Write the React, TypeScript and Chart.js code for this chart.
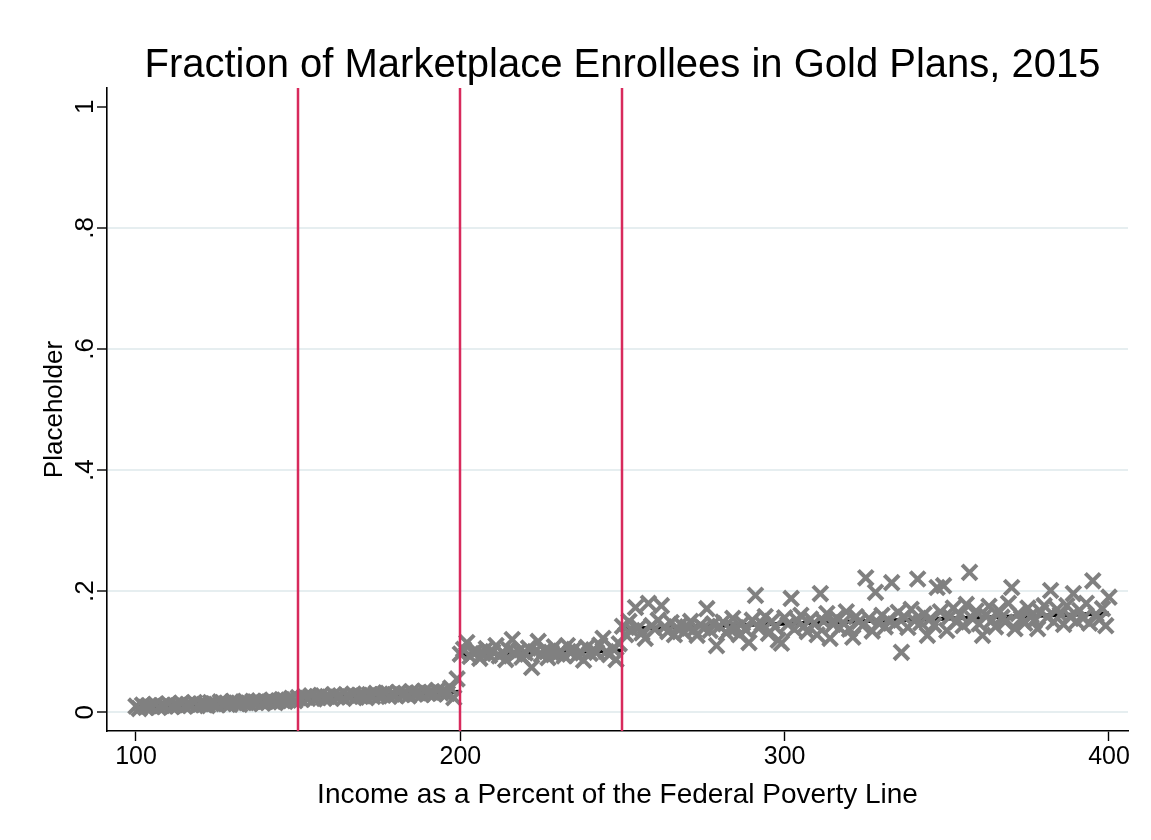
import React, { useEffect, useRef } from "react";
import { Chart, registerables } from "chart.js";

Chart.register(...registerables);

const TITLE = "Fraction of Marketplace Enrollees in Gold Plans, 2015";
const X_TITLE = "Income as a Percent of the Federal Poverty Line";
const Y_TITLE = "Placeholder";

const xTicks = [100, 200, 300, 400];
const yTicks = [0, 0.2, 0.4, 0.6, 0.8, 1];
const yTickLabels = ["0", ".2", ".4", ".6", ".8", "1"];

// Subsidy cutoffs (% of FPL)
const cutoffs = [150, 200, 250];

// First income value of each bracket
const segStarts = [100, 150, 200, 250];

// Share of enrollees in gold plans, one value per percent of FPL
const share100to149 = [
  0.010, 0.006, 0.012, 0.008, 0.011, 0.009, 0.013, 0.008, 0.011, 0.010,
  0.014, 0.009, 0.012, 0.011, 0.015, 0.010, 0.013, 0.012, 0.016, 0.011,
  0.014, 0.013, 0.011, 0.016, 0.014, 0.012, 0.017, 0.014, 0.015, 0.013,
  0.018, 0.015, 0.013, 0.017, 0.016, 0.014, 0.018, 0.016, 0.019, 0.015,
  0.018, 0.017, 0.020, 0.016, 0.019, 0.021, 0.018, 0.020, 0.023, 0.019,
];
const share150to199 = [
  0.024, 0.021, 0.026, 0.023, 0.027, 0.022, 0.025, 0.028, 0.023, 0.026,
  0.024, 0.029, 0.025, 0.027, 0.023, 0.028, 0.026, 0.030, 0.025, 0.028,
  0.027, 0.024, 0.029, 0.026, 0.031, 0.027, 0.029, 0.032, 0.026, 0.030,
  0.028, 0.033, 0.029, 0.031, 0.027, 0.034, 0.030, 0.032, 0.029, 0.035,
  0.031, 0.033, 0.030, 0.036, 0.032, 0.034, 0.031, 0.040, 0.024, 0.055,
];
const share200to249 = [
  0.096, 0.104, 0.115, 0.092, 0.098, 0.101, 0.089, 0.097, 0.105, 0.094,
  0.100, 0.110, 0.093, 0.099, 0.087, 0.103, 0.120, 0.096, 0.101, 0.091,
  0.098, 0.106, 0.074, 0.100, 0.117, 0.095, 0.102, 0.090, 0.099, 0.108,
  0.096, 0.101, 0.093, 0.110, 0.098, 0.104, 0.094, 0.100, 0.086, 0.107,
  0.097, 0.103, 0.099, 0.111, 0.122, 0.100, 0.095, 0.105, 0.087, 0.113,
];
const share250to400 = [
  0.142, 0.128, 0.150, 0.135, 0.173, 0.140, 0.131, 0.122, 0.180, 0.143,
  0.137, 0.152, 0.176, 0.141, 0.133, 0.148, 0.128, 0.139, 0.145, 0.132,
  0.141, 0.150, 0.136, 0.127, 0.144, 0.139, 0.171, 0.135, 0.146, 0.110,
  0.142, 0.149, 0.131, 0.138, 0.155, 0.140, 0.128, 0.147, 0.136, 0.115,
  0.152, 0.193, 0.139, 0.146, 0.158, 0.130, 0.150, 0.141, 0.119, 0.114,
  0.156, 0.145, 0.188, 0.137, 0.151, 0.160, 0.142, 0.133, 0.154, 0.147,
  0.128, 0.196, 0.150, 0.163, 0.122, 0.145, 0.156, 0.139, 0.148, 0.166,
  0.137, 0.124, 0.158, 0.150, 0.143, 0.222, 0.155, 0.134, 0.198, 0.147,
  0.160, 0.141, 0.152, 0.214, 0.146, 0.165, 0.099, 0.157, 0.140, 0.170,
  0.151, 0.220, 0.148, 0.162, 0.127, 0.155, 0.144, 0.206, 0.166, 0.209,
  0.135, 0.158, 0.172, 0.149, 0.161, 0.143, 0.178, 0.231, 0.154, 0.167,
  0.146, 0.127, 0.160, 0.175, 0.152, 0.141, 0.168, 0.157, 0.149, 0.180,
  0.206, 0.138, 0.163, 0.155, 0.147, 0.172, 0.160, 0.151, 0.138, 0.166,
  0.176, 0.157, 0.201, 0.149, 0.170, 0.161, 0.145, 0.176, 0.158, 0.196,
  0.150, 0.168, 0.155, 0.180, 0.147, 0.217, 0.162, 0.153, 0.171, 0.143,
  0.190,
];

// Linear fits within each bracket
const fitFromX = [100, 150, 200, 250];
const fitToX = [150, 200, 250, 400];
const fitFromY = [0.009, 0.022, 0.095, 0.138];
const fitToY = [0.020, 0.034, 0.102, 0.163];

const FONT = '"Liberation Sans", Arial, Helvetica, sans-serif';

const titlePlugin = {
  id: "plotTitle",
  afterDraw(chart: any) {
    const { ctx, chartArea } = chart;
    ctx.save();
    ctx.font = `40px ${FONT}`;
    ctx.fillStyle = "#000";
    ctx.textAlign = "center";
    ctx.textBaseline = "alphabetic";
    ctx.fillText(TITLE, (chartArea.left + chartArea.right) / 2 + 5, 77);
    ctx.restore();
  },
};

const cutoffPlugin = {
  id: "cutoffLines",
  afterDatasetsDraw(chart: any) {
    const { ctx, chartArea, scales } = chart;
    ctx.save();
    ctx.strokeStyle = "#d82a5c";
    ctx.lineWidth = 2.5;
    for (const c of cutoffs) {
      const px = Math.round(scales.x.getPixelForValue(c));
      ctx.beginPath();
      ctx.moveTo(px, chartArea.top);
      ctx.lineTo(px, chartArea.bottom);
      ctx.stroke();
    }
    ctx.restore();
  },
};

export default function App() {
  const canvasRef = useRef<HTMLCanvasElement | null>(null);

  useEffect(() => {
    const canvas = canvasRef.current;
    if (!canvas) return;

    const brackets = [share100to149, share150to199, share200to249, share250to400];
    const points: { x: number; y: number }[] = [];
    brackets.forEach((vals, b) => {
      vals.forEach((v, i) => points.push({ x: segStarts[b] + i, y: v }));
    });

    const fitSets = fitFromX.map((x0, i) => ({
      label: `Fit ${i + 1}`,
      data: [
        { x: x0, y: fitFromY[i] },
        { x: fitToX[i], y: fitToY[i] },
      ],
      showLine: true,
      borderColor: "#000",
      borderWidth: 4,
      pointRadius: 0,
      order: 2,
    }));

    const chart = new Chart(canvas, {
      type: "scatter",
      data: {
        datasets: [
          {
            label: "Gold share",
            data: points,
            pointStyle: "crossRot",
            pointRadius: 10.5,
            pointBorderWidth: 4,
            borderColor: "#808080",
            backgroundColor: "#808080",
            order: 1,
          },
          ...fitSets,
        ],
      } as any,
      options: {
        animation: false,
        responsive: false,
        maintainAspectRatio: false,
        layout: { padding: { top: 88, right: 23, bottom: 0, left: 0 } },
        plugins: {
          legend: { display: false },
          tooltip: { enabled: false },
          title: { display: false },
        },
        scales: {
          x: {
            type: "linear",
            min: 91.06,
            max: 405.86,
            afterBuildTicks: (axis: any) => {
              axis.ticks = xTicks.map((v) => ({ value: v }));
            },
            afterFit: (axis: any) => {
              axis.height = 109;
            },
            ticks: {
              autoSkip: false,
              minRotation: 0,
              maxRotation: 0,
              padding: 1,
              color: "#000",
              font: { family: FONT, size: 25 },
              callback: (v: any) => String(v),
            },
            grid: {
              drawOnChartArea: false,
              tickColor: "#000",
              tickLength: 10,
              tickWidth: 1.4,
            },
            border: { color: "#000", width: 1.6 },
            title: {
              display: true,
              text: X_TITLE,
              color: "#000",
              font: { family: FONT, size: 28 },
              padding: { top: 0, bottom: 28 },
            },
          },
          y: {
            type: "linear",
            min: -0.031,
            max: 1.031,
            afterBuildTicks: (axis: any) => {
              axis.ticks = yTicks.map((v) => ({ value: v }));
            },
            afterFit: (axis: any) => {
              axis.width = 107;
            },
            ticks: {
              minRotation: 90,
              maxRotation: 90,
              crossAlign: "center",
              padding: 0,
              color: "#000",
              font: { family: FONT, size: 26 },
              callback: (v: any) => yTickLabels[yTicks.indexOf(v)] ?? "",
            },
            grid: {
              color: (c: any) =>
                c.tick && c.tick.value === 1 ? "rgba(0,0,0,0)" : "#e6eef0",
              lineWidth: 2,
              tickColor: "#000",
              tickLength: 10,
              tickWidth: 1.4,
            },
            border: { color: "#000", width: 1.6 },
            title: {
              display: true,
              text: Y_TITLE,
              color: "#000",
              font: { family: FONT, size: 26 },
              padding: { top: 39, bottom: 0 },
            },
          },
        },
      } as any,
      plugins: [titlePlugin, cutoffPlugin],
    });

    return () => chart.destroy();
  }, []);

  return (
    <div
      style={{
        position: "absolute",
        left: 0,
        top: 0,
        width: 1151,
        height: 840,
        background: "#fff",
      }}
    >
      <canvas ref={canvasRef} width={1151} height={840} />
    </div>
  );
}
